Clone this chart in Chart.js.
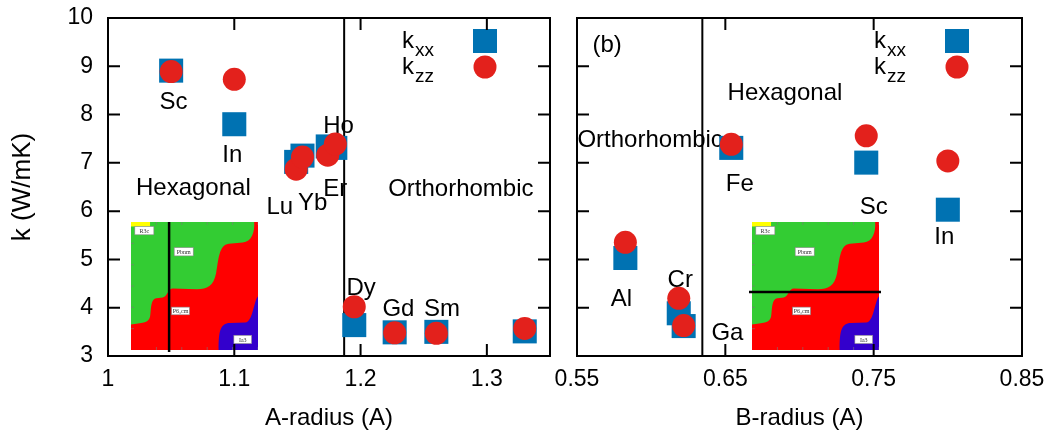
<!DOCTYPE html>
<html>
<head>
<meta charset="utf-8">
<script src="https://cdn.jsdelivr.net/npm/chart.js@4.4.1/dist/chart.umd.min.js"></script>
<style>
html, body { margin: 0; padding: 0; background: #ffffff; }
#wrap { position: relative; width: 1053px; height: 433px; overflow: hidden; background: #ffffff; }
canvas { position: absolute; top: 0; }
</style>
</head>
<body>
<div id="wrap">
  <canvas id="chartA" width="560" height="433" style="left:0px"></canvas>
  <canvas id="chartB" width="513" height="433" style="left:540px"></canvas>
</div>
<script>
// ---------- Data: panel (a), A-site radius ----------
const aElements = ['Sc', 'In', 'Lu', 'Yb', 'Er', 'Ho', 'Dy', 'Gd', 'Sm', 'La'];
const aRadius = [1.050, 1.100, 1.149, 1.154, 1.174, 1.180, 1.195, 1.227, 1.260, 1.330];
const aKxx = [8.91, 7.80, 7.02, 7.15, 7.34, 7.31, 3.64, 3.49, 3.50, 3.51];
const aKzz = [8.89, 8.73, 6.87, 7.12, 7.16, 7.39, 4.02, 3.48, 3.47, 3.57];
const aXTicks = [1, 1.1, 1.2, 1.3];
const aXTickLabels = ['1', '1.1', '1.2', '1.3'];
const aBoundary = 1.187;
const aNoteText = ['Sc', 'In', 'Lu', 'Yb', 'Er', 'Ho', 'Dy', 'Gd', 'Sm', 'Hexagonal', 'Orthorhombic'];
const aNoteX = [1.0518, 1.0984, 1.136, 1.162, 1.180, 1.1826, 1.2004, 1.230, 1.2644, 1.0676, 1.2794];
const aNoteY = [8.30, 7.19, 6.12, 6.21, 6.49, 7.79, 4.44, 4.00, 4.00, 6.51, 6.50];

// ---------- Data: panel (b), B-site radius ----------
const bElements = ['Al', 'Cr', 'Ga', 'Fe', 'Sc', 'In'];
const bRadius = [0.5826, 0.6186, 0.6219, 0.6540, 0.7450, 0.8000];
const bKxx = [5.03, 3.885, 3.62, 7.31, 7.005, 6.03];
const bKzz = [5.355, 4.195, 3.63, 7.385, 7.56, 7.04];
const bXTicks = [0.55, 0.65, 0.75, 0.85];
const bXTickLabels = ['0.55', '0.65', '0.75', '0.85'];
const bBoundary = 0.6345;
const bNoteText = ['(b)', 'Hexagonal', 'Orthorhombic', 'Fe', 'Sc', 'In', 'Al', 'Cr', 'Ga'];
const bNoteX = [0.5703, 0.6902, 0.5993, 0.6598, 0.7500, 0.7976, 0.5800, 0.6196, 0.6514];
const bNoteY = [9.48, 8.48, 7.50, 6.60, 6.12, 5.50, 4.22, 4.60, 3.50];

// ---------- Shared ----------
const yTicks = [3, 4, 5, 6, 7, 8, 9, 10];
const seriesNames = ['k', 'k'];
const seriesSubs = ['xx', 'zz'];
const insetLabels = ['R3c', 'Pbnm', 'P6\u2083cm', 'Ia3'];

const FONT = "'Liberation Sans', Arial, Helvetica, sans-serif";
const BLUE = '#0072B2';
const RED = '#E3211C';

function pts(xs, ys) { return xs.map((x, i) => ({ x: x, y: ys[i] })); }

function drawInset(ctx, X, Y, W, H, lineMode) {
  const P = (u, v) => [X + u * W, Y + v * H];
  ctx.save();
  ctx.beginPath(); ctx.rect(X, Y, W, H); ctx.clip();
  ctx.fillStyle = '#FF0000';
  ctx.fillRect(X, Y, W, H);
  // green region (Pbnm)
  ctx.fillStyle = '#33CC33';
  ctx.beginPath();
  ctx.moveTo(...P(0, 0));
  ctx.lineTo(...P(0.97, 0));
  ctx.bezierCurveTo(...P(0.975, 0.08), ...P(0.95, 0.155), ...P(0.88, 0.16));
  ctx.lineTo(...P(0.77, 0.17));
  ctx.bezierCurveTo(...P(0.69, 0.18), ...P(0.69, 0.30), ...P(0.67, 0.40));
  ctx.bezierCurveTo(...P(0.65, 0.50), ...P(0.60, 0.525), ...P(0.52, 0.525));
  ctx.lineTo(...P(0.33, 0.52));
  ctx.bezierCurveTo(...P(0.29, 0.52), ...P(0.29, 0.58), ...P(0.25, 0.59));
  ctx.lineTo(...P(0.20, 0.595));
  ctx.bezierCurveTo(...P(0.15, 0.60), ...P(0.16, 0.70), ...P(0.15, 0.74));
  ctx.bezierCurveTo(...P(0.14, 0.79), ...P(0.08, 0.79), ...P(0, 0.80));
  ctx.closePath();
  ctx.fill();
  // blue region (Ia3)
  ctx.fillStyle = '#3300CC';
  ctx.beginPath();
  ctx.moveTo(...P(0.69, 1));
  ctx.bezierCurveTo(...P(0.69, 0.86), ...P(0.70, 0.79), ...P(0.78, 0.79));
  ctx.lineTo(...P(0.90, 0.785));
  ctx.bezierCurveTo(...P(0.96, 0.78), ...P(0.965, 0.62), ...P(1, 0.58));
  ctx.lineTo(...P(1, 1));
  ctx.closePath();
  ctx.fill();
  // yellow sliver (R3c)
  ctx.fillStyle = '#FFFF00';
  ctx.fillRect(...P(0, 0), 0.15 * W, 0.035 * H);
  // faint grid ticks
  ctx.strokeStyle = 'rgba(120,120,120,0.6)';
  ctx.lineWidth = 1;
  for (let i = 1; i < 6; i++) {
    const yy = Y + i * H / 6;
    ctx.beginPath(); ctx.moveTo(X, yy); ctx.lineTo(X + 3, yy); ctx.stroke();
    const xx = X + i * W / 5;
    ctx.beginPath(); ctx.moveTo(xx, Y + H); ctx.lineTo(xx, Y + H - 3); ctx.stroke();
    ctx.beginPath(); ctx.moveTo(xx, Y); ctx.lineTo(xx, Y + 3); ctx.stroke();
  }
  // label boxes
  const boxes = [[0.03, 0.035, 0.15, 0.065], [0.34, 0.20, 0.15, 0.065], [0.32, 0.665, 0.14, 0.06], [0.81, 0.885, 0.14, 0.065]];
  ctx.font = "6px 'Liberation Serif', serif";
  ctx.textAlign = 'center';
  ctx.textBaseline = 'middle';
  boxes.forEach((b, i) => {
    const [bx, by] = P(b[0], b[1]);
    const bw = b[2] * W, bh = b[3] * H;
    ctx.fillStyle = '#FFFFFF';
    ctx.fillRect(bx, by, bw, bh);
    ctx.strokeStyle = '#888888';
    ctx.lineWidth = 0.6;
    ctx.strokeRect(bx, by, bw, bh);
    ctx.fillStyle = '#333333';
    ctx.fillText(insetLabels[i], bx + bw / 2, by + bh / 2 + 0.5);
  });
  ctx.restore();
  // black boundary line on the inset
  ctx.save();
  ctx.strokeStyle = '#000000';
  ctx.lineWidth = 2.5;
  ctx.beginPath();
  if (lineMode === 'v') {
    ctx.moveTo(X + 0.30 * W, Y); ctx.lineTo(X + 0.30 * W, Y + H + 2);
  } else {
    ctx.moveTo(X - 3, Y + 0.547 * H); ctx.lineTo(X + W + 2, Y + 0.547 * H);
  }
  ctx.stroke();
  ctx.restore();
}

function makePanelPlugin(notesText, notesX, notesY, boundary, xTicks, insetOffsetX, lineMode) {
  return {
    id: 'panelDecor',
    beforeDatasetsDraw(chart) {
      const { ctx, chartArea: ca, scales } = chart;
      const xs = scales.x, ys = scales.y;
      ctx.save();
      ctx.fillStyle = '#000000';
      ctx.font = '24px ' + FONT;
      ctx.textAlign = 'center';
      ctx.textBaseline = 'alphabetic';
      notesText.forEach((t, i) => {
        ctx.fillText(t, xs.getPixelForValue(notesX[i]), ys.getPixelForValue(notesY[i]) + 0.36 * 24);
      });
      const bx = xs.getPixelForValue(boundary);
      ctx.strokeStyle = '#000000';
      ctx.lineWidth = 2;
      ctx.beginPath(); ctx.moveTo(bx, ca.top); ctx.lineTo(bx, ca.bottom); ctx.stroke();
      ctx.restore();
    },
    afterDatasetsDraw(chart) {
      const { ctx, chartArea: ca, scales } = chart;
      const xs = scales.x, ys = scales.y;
      // inset
      drawInset(ctx, ca.left + insetOffsetX, ca.top + 204, 127, 128, lineMode);
      // legend
      ctx.save();
      const tx = ca.right - 148, mx = ca.right - 65;
      const rows = [ca.top + 23, ca.top + 49];
      rows.forEach((ry, i) => {
        ctx.fillStyle = '#000000';
        ctx.textAlign = 'left';
        ctx.textBaseline = 'alphabetic';
        ctx.font = '24px ' + FONT;
        ctx.fillText(seriesNames[i], tx, ry + 7);
        const w = ctx.measureText(seriesNames[i]).width;
        ctx.font = '19px ' + FONT;
        ctx.fillText(seriesSubs[i], tx + w + 1, ry + 15);
        if (i === 0) {
          ctx.fillStyle = BLUE;
          ctx.fillRect(mx - 12, ry - 12, 24, 24);
        } else {
          ctx.fillStyle = RED;
          ctx.beginPath(); ctx.arc(mx, ry, 11.5, 0, Math.PI * 2); ctx.fill();
        }
      });
      // frame and inward ticks
      ctx.strokeStyle = '#000000';
      ctx.lineWidth = 2;
      ctx.strokeRect(ca.left, ca.top, ca.right - ca.left, ca.bottom - ca.top);
      ctx.beginPath();
      yTicks.forEach(v => {
        const py = ys.getPixelForValue(v);
        ctx.moveTo(ca.left, py); ctx.lineTo(ca.left + 12, py);
        ctx.moveTo(ca.right, py); ctx.lineTo(ca.right - 12, py);
      });
      xTicks.forEach(v => {
        const px = xs.getPixelForValue(v);
        ctx.moveTo(px, ca.bottom); ctx.lineTo(px, ca.bottom - 12);
        ctx.moveTo(px, ca.top); ctx.lineTo(px, ca.top + 12);
      });
      ctx.stroke();
      ctx.restore();
    }
  };
}

function makeDatasets(xs, kxx, kzz) {
  return [
    { label: 'kzz', data: pts(xs, kzz), pointStyle: 'circle', pointRadius: 11.5, pointHoverRadius: 11.5,
      pointBackgroundColor: RED, pointBorderColor: RED, pointBorderWidth: 0, backgroundColor: RED, borderColor: RED, order: 0 },
    { label: 'kxx', data: pts(xs, kxx), pointStyle: 'rect', pointRadius: 17, pointHoverRadius: 17,
      pointBackgroundColor: BLUE, pointBorderColor: BLUE, pointBorderWidth: 0, backgroundColor: BLUE, borderColor: BLUE, order: 1 }
  ];
}

function xScale(min, max, ticks, labels, title) {
  return {
    type: 'linear', min: min, max: max,
    afterBuildTicks: s => { s.ticks = ticks.map(v => ({ value: v })); },
    afterFit: s => { s.height = 77; s.paddingLeft = 0; s.paddingRight = 0; },
    ticks: { autoSkip: false, maxRotation: 0, padding: 10, color: '#000000',
      font: { family: FONT, size: 23 }, callback: (v, i) => labels[i] },
    grid: { display: false, drawTicks: false },
    border: { display: false },
    title: { display: true, text: title, color: '#000000', font: { family: FONT, size: 24 }, padding: { top: 0, bottom: 0 } }
  };
}

Chart.defaults.font.family = FONT;

new Chart(document.getElementById('chartA'), {
  type: 'scatter',
  data: { datasets: makeDatasets(aRadius, aKxx, aKzz) },
  options: {
    responsive: false, animation: false, events: [], devicePixelRatio: 1,
    layout: { autoPadding: false, padding: { left: 0, right: 10, top: 18, bottom: 0 } },
    plugins: { legend: { display: false }, tooltip: { enabled: false } },
    scales: {
      x: xScale(1, 1.35, aXTicks, aXTickLabels, 'A-radius (A)'),
      y: {
        type: 'linear', min: 3, max: 10,
        afterBuildTicks: s => { s.ticks = yTicks.map(v => ({ value: v })); },
        afterFit: s => { s.width = 108; s.paddingTop = 0; s.paddingBottom = 0; },
        ticks: { padding: 15, color: '#000000', font: { family: FONT, size: 23 } },
        grid: { display: false, drawTicks: false },
        border: { display: false },
        title: { display: true, text: 'k (W/mK)', color: '#000000', font: { family: FONT, size: 26 }, padding: { top: 7, bottom: 0 } }
      }
    }
  },
  plugins: [makePanelPlugin(aNoteText, aNoteX, aNoteY, aBoundary, aXTicks, 23, 'v')]
});

new Chart(document.getElementById('chartB'), {
  type: 'scatter',
  data: { datasets: makeDatasets(bRadius, bKxx, bKzz) },
  options: {
    responsive: false, animation: false, events: [], devicePixelRatio: 1,
    layout: { autoPadding: false, padding: { left: 0, right: 31, top: 18, bottom: 0 } },
    plugins: { legend: { display: false }, tooltip: { enabled: false } },
    scales: {
      x: xScale(0.55, 0.85, bXTicks, bXTickLabels, 'B-radius (A)'),
      y: {
        type: 'linear', min: 3, max: 10,
        afterBuildTicks: s => { s.ticks = yTicks.map(v => ({ value: v })); },
        afterFit: s => { s.width = 37; s.paddingTop = 0; s.paddingBottom = 0; },
        ticks: { display: false },
        grid: { display: false, drawTicks: false },
        border: { display: false },
        title: { display: false }
      }
    }
  },
  plugins: [makePanelPlugin(bNoteText, bNoteX, bNoteY, bBoundary, bXTicks, 175, 'h')]
});
</script>
</body>
</html>
